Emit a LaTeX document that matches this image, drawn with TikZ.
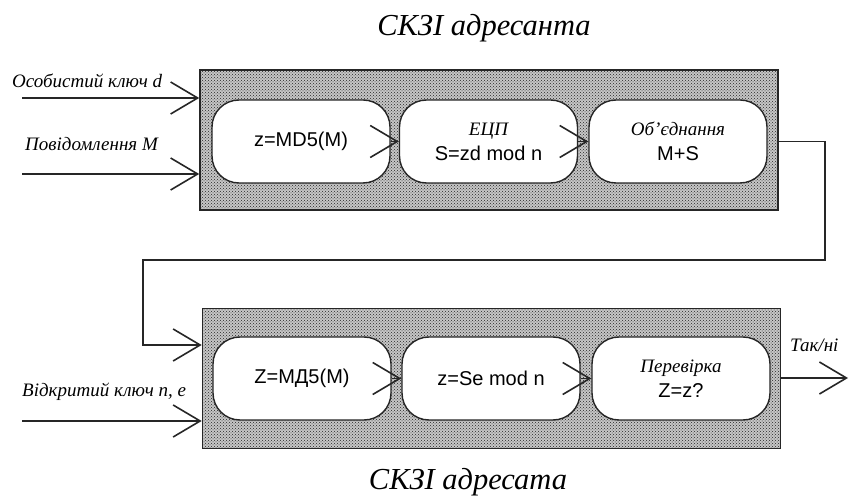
\documentclass[tikz,border=0pt]{standalone}
\usepackage{fontspec}
\setmainfont{Liberation Serif}
\setsansfont{Liberation Sans}
\usetikzlibrary{arrows.meta,patterns}

\tikzset{
  panel/.style={draw=black!85, line width=1.6pt, fill=gray!45,
    postaction={pattern=crosshatch dots, pattern color=black!85},
    minimum width=578pt, minimum height=140pt, inner sep=0pt},
  stage/.style={draw=black!85, line width=1.4pt, fill=white, rounded corners=27pt,
    minimum width=178pt, minimum height=83pt, inner sep=0pt, align=center,
    font=\sffamily\fontsize{20}{25}\selectfont},
  barb/.tip={Straight Barb[length=27pt,width=32pt,line width=1.6pt]},
  flow/.style={line width=1.6pt, draw=black!85, -barb},
  sidelabel/.style={font=\itshape\fontsize{19}{22}\selectfont, anchor=base west, inner sep=0pt},
  heading/.style={font=\itshape\fontsize{30.5}{33}\selectfont, inner sep=0pt}
}
\newcommand{\itl}[1]{{\rmfamily\itshape\fontsize{19}{22}\selectfont #1}}

\begin{document}
\begin{tikzpicture}[x=1pt,y=-1pt]
  \useasboundingbox (0,0) rectangle (849,502);

  % titles
  \node[heading] (senderTitle) at (484,28) {СКЗІ адресанта};
  \node[heading] (receiverTitle) at (468,482) {СКЗІ адресата};

  % sender block
  \node[panel] (sender) at (489,140) {};
  \node[stage] (hash) at (301,141.5) {z=MD5(M)};
  \node[stage] (sign) at (488.5,141.5) {\itl{ЕЦП}\\S=zd mod n};
  \node[stage] (merge) at (678,141.5) {\itl{Об’єднання}\\M+S};

  % receiver block
  \node[panel] (receiver) at (491.5,378.5) {};
  \node[stage] (rhash) at (302,378.5) {Z=МД5(М)};
  \node[stage] (rsig) at (491,378.5) {z=Se mod n};
  \node[stage] (check) at (681,378.5) {\itl{Перевірка}\\Z=z?};

  % inputs
  \node[sidelabel] (labD) at (12,88) {Особистий ключ d};
  \node[sidelabel] (labM) at (25,151) {Повідомлення M};
  \node[sidelabel] (labK) at (22,397) {Відкритий ключ n, e};
  \node[sidelabel] (labOut) at (790,352) {Так/ні};

  \coordinate (inD) at (22,98);
  \coordinate (inM) at (22,174);
  \coordinate (inK) at (22,421);
  \coordinate (outEnd) at (848,378);
  \coordinate (turnR) at (825,260);
  \coordinate (turnL) at (143,345);

  \draw[flow] (inD) -- (inD -| sender.west);
  \draw[flow] (inM) -- (inM -| sender.west);
  \draw[flow] (inK) -- (inK -| receiver.west);

  % internal links
  \draw[flow] (hash.east) -- (sign.west);
  \draw[flow] (sign.east) -- (merge.west);
  \draw[flow] (rhash.east) -- (rsig.west);
  \draw[flow] (rsig.east) -- (check.west);

  % transfer from sender to receiver
  \draw[flow] (sender.east |- merge.center) -| (turnR) -| (turnL) -- (turnL -| receiver.west);

  % result
  \draw[flow] (receiver.east |- outEnd) -- (outEnd);
\end{tikzpicture}
\end{document}
